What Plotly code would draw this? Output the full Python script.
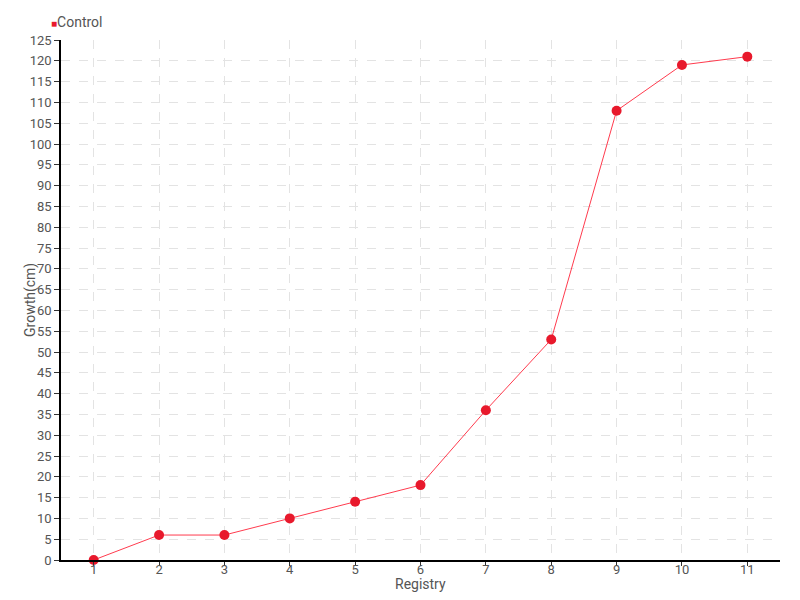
import plotly.graph_objects as go

registry = [1, 2, 3, 4, 5, 6, 7, 8, 9, 10, 11]
growth = [0, 6, 6, 10, 14, 18, 36, 53, 108, 119, 121]
y_ticks = list(range(0, 130, 5))

FONT = "Roboto, Liberation Sans, sans-serif"
RED = '#e8192c'

fig = go.Figure()
fig.add_trace(go.Scatter(x=registry, y=growth, mode='lines+markers',
                         line=dict(color='#ff3b4e', width=1),
                         marker=dict(size=10, color=RED),
                         name='Control', showlegend=False, cliponaxis=False))

# legend drawn as a small red square + label
fig.add_annotation(x=0, y=1, xref='paper', yref='paper', xanchor='left', yanchor='bottom',
                   xshift=-12, yshift=8, showarrow=False,
                   text=f"<span style='color:{RED};font-size:10px'>■</span>Control",
                   font=dict(size=14, color='#555555'))

# axis titles placed by hand to sit close to the tick labels
fig.add_annotation(x=0.5, y=0, xref='paper', yref='paper', yanchor='middle',
                   yshift=-24, showarrow=False, text='Registry',
                   font=dict(size=14, color='#555555'))
fig.add_annotation(x=0, y=0.5, xref='paper', yref='paper', xanchor='center',
                   xshift=-31, showarrow=False, text='Growth(cm)', textangle=-90,
                   font=dict(size=14, color='#555555'))

fig.update_layout(
    width=800, height=600,
    margin=dict(l=61, r=20, t=40, b=40),
    plot_bgcolor='white', paper_bgcolor='white',
    font=dict(family=FONT, size=13, color='#555555'),
    showlegend=False,
    xaxis=dict(range=[0.5, 11.5], tickvals=registry, ticks='outside', ticklen=4,
               tickcolor='#333', showline=True, linecolor='black', linewidth=1.5,
               showgrid=True, gridcolor='#e3e3e3', griddash='dash', zeroline=False,
               automargin=False, ticklabelstandoff=-7),
    yaxis=dict(range=[0, 125], tickvals=y_ticks, ticks='outside', ticklen=5,
               tickcolor='#333', showline=True, linecolor='black', linewidth=1.5,
               showgrid=True, gridcolor='#e3e3e3', griddash='dash', zeroline=False,
               automargin=False),
)

fig.write_html("out.html", config={'displayModeBar': False},
               post_script="document.body.style.margin='0';")
